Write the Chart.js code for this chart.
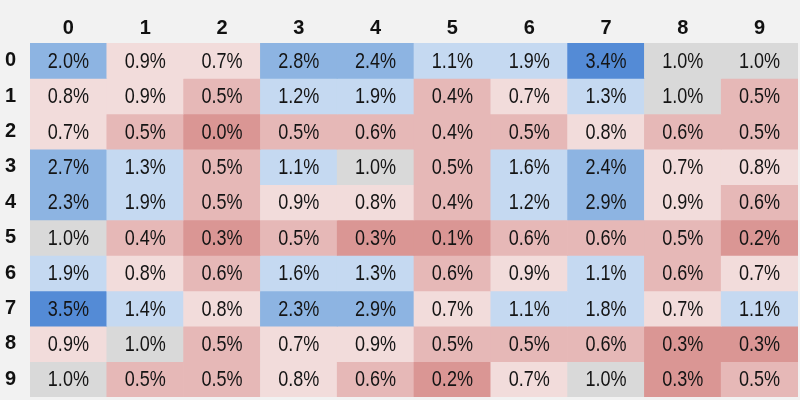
<!DOCTYPE html>
<html>
<head>
<meta charset="utf-8">
<script src="https://cdn.jsdelivr.net/npm/chart.js@4"></script>
<style>
  body { margin: 0; background: #f2f2f2; }
  #wrap { width: 800px; height: 400px; }
</style>
</head>
<body>
<div id="wrap"><canvas id="heat"></canvas></div>
<script>
const colLabels = ['0', '1', '2', '3', '4', '5', '6', '7', '8', '9'];
const rowLabels = ['0', '1', '2', '3', '4', '5', '6', '7', '8', '9'];

// percent values, one array per row
const row0 = [2.0, 0.9, 0.7, 2.8, 2.4, 1.1, 1.9, 3.4, 1.0, 1.0];
const row1 = [0.8, 0.9, 0.5, 1.2, 1.9, 0.4, 0.7, 1.3, 1.0, 0.5];
const row2 = [0.7, 0.5, 0.0, 0.5, 0.6, 0.4, 0.5, 0.8, 0.6, 0.5];
const row3 = [2.7, 1.3, 0.5, 1.1, 1.0, 0.5, 1.6, 2.4, 0.7, 0.8];
const row4 = [2.3, 1.9, 0.5, 0.9, 0.8, 0.4, 1.2, 2.9, 0.9, 0.6];
const row5 = [1.0, 0.4, 0.3, 0.5, 0.3, 0.1, 0.6, 0.6, 0.5, 0.2];
const row6 = [1.9, 0.8, 0.6, 1.6, 1.3, 0.6, 0.9, 1.1, 0.6, 0.7];
const row7 = [3.5, 1.4, 0.8, 2.3, 2.9, 0.7, 1.1, 1.8, 0.7, 1.1];
const row8 = [0.9, 1.0, 0.5, 0.7, 0.9, 0.5, 0.5, 0.6, 0.3, 0.3];
const row9 = [1.0, 0.5, 0.5, 0.8, 0.6, 0.2, 0.7, 1.0, 0.3, 0.5];
const rows = [row0, row1, row2, row3, row4, row5, row6, row7, row8, row9];

const FONT = "'Liberation Sans', Arial, sans-serif";

function cellColor(v) {
  if (v >= 3.0) return '#548bd6';
  if (v >= 2.0) return '#8db4e2';
  if (v > 1.0) return '#c5d9f1';
  if (v === 1.0) return '#d9d9d9';
  if (v >= 0.7) return '#f2dcdb';
  if (v >= 0.4) return '#e6b8b7';
  return '#da9694';
}

const datasets = rows.map((vals, r) => ({
  label: rowLabels[r],
  data: vals.map((v, c) => ({ x: colLabels[c], y: [r, r + 1], v: v })),
  backgroundColor: vals.map(cellColor),
  borderWidth: 0,
  barPercentage: 1,
  categoryPercentage: 1,
  grouped: false
}));

// writes the percentage in the middle of every cell (squeezed to look like a narrow font)
const cellText = {
  id: 'cellText',
  afterDatasetsDraw(chart) {
    const ctx = chart.ctx;
    chart.data.datasets.forEach((ds, i) => {
      chart.getDatasetMeta(i).data.forEach((el, j) => {
        const p = el.getProps(['x', 'y', 'base'], true);
        ctx.save();
        ctx.translate(p.x, (p.y + p.base) / 2 + 1);
        ctx.scale(0.82, 1);
        ctx.font = '22px ' + FONT;
        ctx.fillStyle = '#141414';
        ctx.textAlign = 'center';
        ctx.textBaseline = 'middle';
        ctx.fillText(ds.data[j].v.toFixed(1) + '%', 0, 0);
        ctx.restore();
      });
    });
  }
};

new Chart(document.getElementById('heat'), {
  type: 'bar',
  data: { labels: colLabels, datasets: datasets },
  options: {
    responsive: true,
    maintainAspectRatio: false,
    animation: false,
    layout: { padding: { left: 0, right: 2, top: 0, bottom: 3 } },
    plugins: {
      legend: { display: false },
      tooltip: { enabled: false }
    },
    scales: {
      x: {
        position: 'top',
        grid: { display: false, drawTicks: false },
        border: { display: false },
        ticks: {
          color: '#111',
          padding: 3,
          font: { family: FONT, size: 20, weight: 'bold' }
        },
        afterFit: (s) => { s.height = 43; s.paddingLeft = 0; s.paddingRight = 0; }
      },
      y: {
        min: 0,
        max: 10,
        reverse: true,
        grid: { display: false, drawTicks: false },
        border: { display: false },
        afterBuildTicks: (s) => { s.ticks = rowLabels.map((_, i) => ({ value: i + 0.5 })); },
        ticks: {
          color: '#111',
          padding: 14,
          font: { family: FONT, size: 20, weight: 'bold' },
          callback: (v, i) => rowLabels[i]
        },
        afterFit: (s) => { s.width = 30; s.paddingTop = 0; s.paddingBottom = 0; }
      }
    }
  },
  plugins: [cellText]
});
</script>
</body>
</html>
